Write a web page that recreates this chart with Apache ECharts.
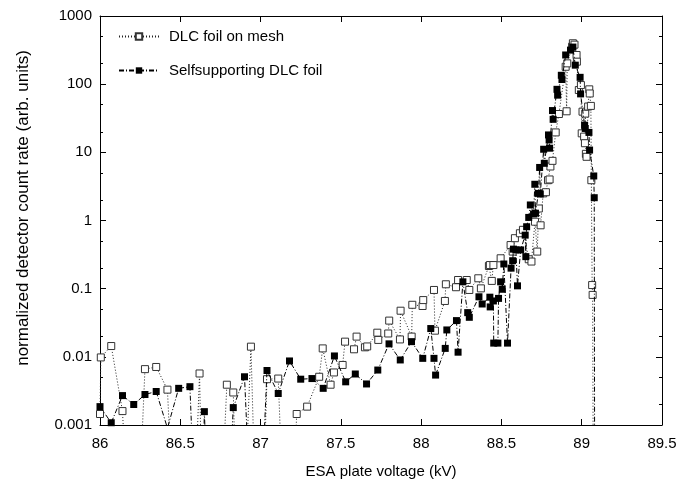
<!DOCTYPE html>
<html>
<head>
<meta charset="utf-8">
<script src="https://cdn.jsdelivr.net/npm/echarts@6/dist/echarts.min.js"></script>
<style>html,body{margin:0;padding:0;background:#fff;}#c{width:694px;height:484px;}</style>
</head>
<body>
<div id="c"></div>
<script>
// ---- data (voltage in kV, normalized count rate) ----
// 1e-6 marks channels whose rate is far below the plotted range
const meshVoltage = [86.00,86.005,86.07,86.14,86.21,86.28,86.35,86.42,86.49,86.56,86.62,86.65,86.72,86.79,86.83,86.87,86.94,86.99,87.04,87.11,87.17,87.225,87.29,87.365,87.387,87.436,87.457,87.511,87.526,87.582,87.598,87.65,87.664,87.727,87.733,87.795,87.801,87.868,87.872,87.941,87.945,88.009,88.013,88.08,88.086,88.148,88.154,88.217,88.23,88.284,88.30,88.356,88.372,88.422,88.428,88.44,88.45,88.495,88.557,88.57,88.584,88.615,88.634,88.67,88.687,88.709,88.723,88.733,88.744,88.76,88.777,88.79,88.80,88.805,88.818,88.838,88.858,88.90,88.906,88.91,88.94,88.945,88.955,88.968,88.97,88.982,88.995,89.0,89.005,89.015,89.02,89.022,89.026,89.03,89.04,89.047,89.05,89.057,89.06,89.065,89.068,89.075];
const meshRate    = [0.00145,0.0098,0.0144,0.0016,1e-6,0.0066,0.0071,0.0033,1e-6,1e-6,0.0057,1e-6,1e-6,0.0039,0.0030,1e-6,0.0141,1e-6,0.0047,0.0048,1e-6,0.00145,0.00186,0.0051,0.0133,0.0039,0.0059,0.0076,0.0167,0.0129,0.0198,0.0138,0.0142,0.0226,0.0177,0.022,0.034,0.018,0.0475,0.0198,0.058,0.0557,0.068,0.0957,0.0242,0.066,0.116,0.105,0.134,0.134,0.0957,0.142,0.101,0.215,0.222,0.13,0.222,0.279,0.436,0.35,0.55,0.65,0.73,0.27,0.25,0.96,0.35,1.5,0.85,2.5,2.6,3.9,4.0,6.2,7.5,19.6,36.5,180,40,202,355,398,380,268,214,82,97,19,39.5,17,13.6,37,9.5,8.6,47,84,73,48,3.9,0.113,0.081,1e-6];

const selfVoltage = [86.00,86.07,86.14,86.21,86.28,86.35,86.42,86.49,86.56,86.62,86.65,86.70,86.76,86.83,86.90,86.97,87.04,87.11,87.18,87.25,87.32,87.39,87.46,87.53,87.59,87.66,87.73,87.80,87.87,87.94,88.01,88.06,88.08,88.09,88.15,88.16,88.22,88.23,88.26,88.29,88.30,88.36,88.38,88.428,88.43,88.45,88.452,88.478,88.482,88.495,88.505,88.515,88.538,88.56,88.57,88.575,88.59,88.60,88.62,88.648,88.652,88.657,88.67,88.68,88.70,88.708,88.712,88.73,88.738,88.742,88.763,88.767,88.793,88.797,88.80,88.818,88.822,88.846,88.85,88.873,88.877,88.90,88.93,88.945,88.96,88.99,88.993,89.018,89.022,89.045,89.049,89.075,89.078,89.082];
const selfRate    = [0.00186,0.00108,0.0027,0.0020,0.0028,0.0031,0.0009,0.00345,0.00365,1e-6,0.00157,1e-6,1e-6,0.0018,0.0051,1e-6,0.0063,0.0029,0.0087,0.0047,0.0048,0.00345,0.0103,0.0043,0.0056,0.0040,0.0064,0.0155,0.0090,0.0167,0.0095,0.026,0.0095,0.0054,0.0133,0.0248,0.034,0.0117,0.126,0.0445,0.038,0.076,0.0596,0.075,0.054,0.066,0.0159,0.0159,0.072,0.126,0.098,0.23,0.0159,0.20,0.257,0.38,0.37,0.11,0.37,0.61,0.295,0.81,1.11,1.69,1.25,3.4,1.28,2.5,6.0,2.45,11.1,6.9,18,15.2,11.5,41,30.5,84,69,135,117,268,316,350,190,126,72,25,22.4,19.6,10.8,4.5,2.16,1e-6];

const xTicks = [86, 86.5, 87, 87.5, 88, 88.5, 89, 89.5];
const yTickLabels = ['0.001', '0.01', '0.1', '1', '10', '100', '1000'];
const yMinorMultipliers = [2, 5];

// ---- build ----
const meshData = meshVoltage.map((v, i) => [v, meshRate[i]]);
const selfData = selfVoltage.map((v, i) => [v, selfRate[i]]);
const minorPos = [];
for (let d = -3; d < 3; d++) yMinorMultipliers.forEach(m => minorPos.push(d + Math.log10(m)));

const FONT = 'Liberation Sans';
const black = '#000';
const xBase = {
  type: 'value', min: 86, max: 89.5, interval: 0.5,
  axisLine: {show: true, onZero: false, lineStyle: {color: black, width: 1}},
  axisTick: {show: true, inside: true, length: 6, lineStyle: {color: black}},
  splitLine: {show: false}
};
const chart = echarts.init(document.getElementById('c'), null, {renderer: 'canvas'});
chart.setOption({
  animation: false,
  backgroundColor: '#fff',
  grid: {left: 100, right: 32, top: 16, bottom: 59, containLabel: false},
  xAxis: [
    Object.assign({}, xBase, {
      position: 'bottom',
      name: 'ESA plate voltage (kV)', nameLocation: 'middle', nameGap: 39,
      nameTextStyle: {fontFamily: FONT, fontSize: 15, color: black},
      axisLabel: {show: true, margin: 11, fontFamily: FONT, fontSize: 15, color: black,
        customValues: xTicks, formatter: v => String(v)}
    }),
    Object.assign({}, xBase, {position: 'top', axisLabel: {show: false}})
  ],
  yAxis: [
    {
      type: 'log', logBase: 10, min: 0.001, max: 1000, position: 'left',
      axisLine: {show: true, onZero: false, lineStyle: {color: black, width: 1}},
      axisTick: {show: true, inside: true, length: 6, lineStyle: {color: black}},
      splitLine: {show: false},
      axisLabel: {show: true, margin: 8, fontFamily: FONT, fontSize: 15, color: black,
        formatter: v => yTickLabels[Math.round(Math.log10(v)) + 3]}
    },
    {
      type: 'value', min: -3, max: 3, position: 'left',
      axisLine: {show: false}, splitLine: {show: false}, axisLabel: {show: false},
      axisTick: {show: true, inside: true, length: 3, customValues: minorPos, lineStyle: {color: black}}
    },
    {
      type: 'log', logBase: 10, min: 0.001, max: 1000, position: 'right',
      axisLine: {show: true, onZero: false, lineStyle: {color: black, width: 1}},
      axisTick: {show: true, inside: true, length: 6, lineStyle: {color: black}},
      splitLine: {show: false}, axisLabel: {show: false}
    },
    {
      type: 'value', min: -3, max: 3, position: 'right',
      axisLine: {show: false}, splitLine: {show: false}, axisLabel: {show: false},
      axisTick: {show: true, inside: true, length: 3, customValues: minorPos, lineStyle: {color: black}}
    }
  ],
  legend: {
    show: true, orient: 'vertical', left: 118, top: 29, padding: 0,
    itemWidth: 40, itemHeight: 8, itemGap: 19,
    textStyle: {fontFamily: FONT, fontSize: 15, color: black, padding: [0, 0, 0, 5]},
    data: ['DLC foil on mesh', 'Selfsupporting DLC foil']
  },
  graphic: [{
    type: 'text', x: 23, y: 208, rotation: Math.PI / 2,
    style: {text: 'normalized detector count rate (arb. units)', fontFamily: FONT, fontSize: 17,
      fill: black, align: 'center', verticalAlign: 'middle'}
  }],
  series: [
    {
      name: 'DLC foil on mesh', type: 'line', xAxisIndex: 0, yAxisIndex: 0,
      data: meshData, clip: true, symbol: 'rect', symbolSize: 7,
      lineStyle: {color: '#222', width: 1, type: [1, 2]},
      itemStyle: {color: '#fff', borderColor: '#333', borderWidth: 1},
      emphasis: {disabled: true}, z: 3
    },
    {
      name: 'Selfsupporting DLC foil', type: 'line', xAxisIndex: 0, yAxisIndex: 0,
      data: selfData, clip: true, symbol: 'rect', symbolSize: 7,
      lineStyle: {color: black, width: 1, type: [5, 2, 1, 2]},
      itemStyle: {color: black, borderColor: black, borderWidth: 0},
      emphasis: {disabled: true}, z: 4
    }
  ]
});
</script>
</body>
</html>
